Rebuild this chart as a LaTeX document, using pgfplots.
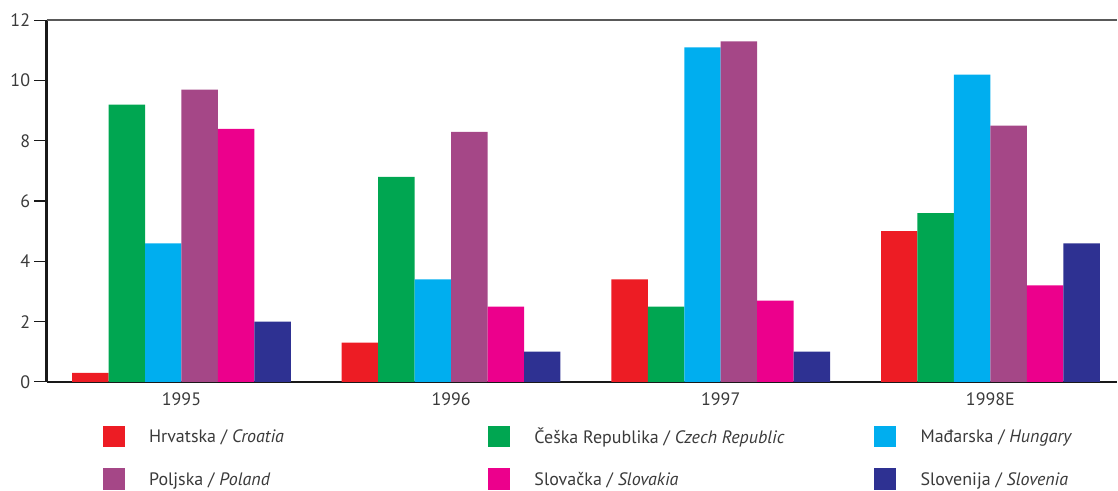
\documentclass[border=0pt]{standalone}
\usepackage{pgfplots}
\pgfplotsset{compat=1.18}
\usepackage{fontspec}
\setmainfont{PT Sans}
\definecolor{cro}{HTML}{ED1C24}
\definecolor{cze}{HTML}{00A651}
\definecolor{hun}{HTML}{00AEEF}
\definecolor{pol}{HTML}{A54787}
\definecolor{svk}{HTML}{EC008C}
\definecolor{slo}{HTML}{2E3192}
\definecolor{txt}{HTML}{3A3A3A}
\newcommand{\lf}{\fontsize{18}{21}\selectfont}
\begin{document}
\begin{tikzpicture}
\begin{axis}[
  name=ax,
  scale only axis,
  width=1071.3pt, height=362pt,
  xmin=-0.5, xmax=3.4685,
  ymin=0, ymax=12,
  ytick={0,2,4,6,8,10,12},
  xtick={0,1,2,3},
  xticklabels={1995,1996,1997,1998E},
  axis x line=bottom, axis y line=left,
  axis line style={-, black!90, line width=2.6pt},
  tick align=outside,
  major tick length=12.4pt,
  ytick style={black!90, line width=1.2pt},
  xtick style={draw=none},
  /pgf/number format/assume math mode=true,
  tick label style={font=\lf, text=txt},
  yticklabel style={inner sep=0pt, xshift=-4pt},
  xticklabel style={inner sep=0pt, yshift=1.5pt},
  ybar, bar width=36.5pt,
  clip=false,
  legend columns=3,
  legend style={draw=none, fill=none, inner sep=0pt, outer sep=0pt,
    at={(rel axis cs:0,0)}, anchor=north west, xshift=56.3pt, yshift=-43.7pt,
    font=\lf, text=txt, row sep=21pt, column sep=0pt,
    nodes={inner sep=0pt, outer sep=0pt}},
  legend cell align=left,
  legend image code/.code={\fill[#1] (0pt,-11pt) rectangle (22pt,11pt);},
]
\addplot[fill=cro, draw=none, bar shift=-91.25pt] coordinates {(0,0.3) (1,1.3) (2,3.4) (3,5.0)};
\addlegendentry{\makebox[363.8pt][l]{\hspace{24.3pt}Hrvatska / \textit{Croatia}}}
\addplot[fill=cze, draw=none, bar shift=-54.75pt] coordinates {(0,9.2) (1,6.8) (2,2.5) (3,5.6)};
\addlegendentry{\makebox[364.5pt][l]{\hspace{24.3pt}Češka Republika / \textit{Czech Republic}}}
\addplot[fill=hun, draw=none, bar shift=-18.25pt] coordinates {(0,4.6) (1,3.4) (2,11.1) (3,10.2)};
\addlegendentry{\hspace{24.3pt}Mađarska / \textit{Hungary}}
\addplot[fill=pol, draw=none, bar shift=18.25pt] coordinates {(0,9.7) (1,8.3) (2,11.3) (3,8.5)};
\addlegendentry{\makebox[363.8pt][l]{\hspace{24.3pt}Poljska / \textit{Poland}}}
\addplot[fill=svk, draw=none, bar shift=54.75pt] coordinates {(0,8.4) (1,2.5) (2,2.7) (3,3.2)};
\addlegendentry{\makebox[364.5pt][l]{\hspace{24.3pt}Slovačka / \textit{Slovakia}}}
\addplot[fill=slo, draw=none, bar shift=91.25pt] coordinates {(0,2.0) (1,1.0) (2,1.0) (3,4.6)};
\addlegendentry{\hspace{24.3pt}Slovenija / \textit{Slovenia}}
\draw[black!65, line width=2pt] (rel axis cs:0,1) -- (rel axis cs:1,1);
\end{axis}
\path ([xshift=-46.7pt,yshift=-106.7pt]ax.south west) rectangle ([yshift=20.3pt]ax.north east);
\end{tikzpicture}
\end{document}
